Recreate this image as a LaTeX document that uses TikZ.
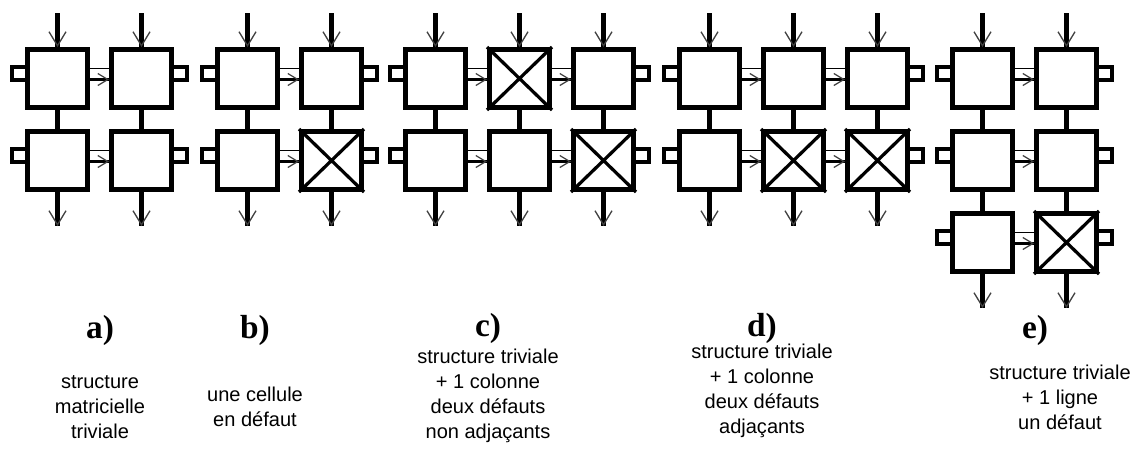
\documentclass[tikz,border=0pt]{standalone}
\usepackage{fontspec}
\setmainfont{Liberation Serif}
\newfontfamily\legende{Liberation Sans}
\usetikzlibrary{arrows.meta}

\tikzset{
  cellule/.style={draw, line width=0.1cm, minimum width=1.2cm, minimum height=1.16cm, inner sep=0pt},
  fil/.style={line width=0.09cm},
  pointe/.style={-{Straight Barb[length=0.28cm, width=0.34cm, line width=0.75pt, black!75]}},
  entree/.style={fil, postaction={draw, line width=0.5pt, pointe}},
  port/.style={line width=0.065cm},
  liaison/.style={line width=0.045cm, postaction={draw, line width=0.5pt, -{Straight Barb[length=0.2cm, width=0.24cm, line width=0.7pt, black!75]}}},
  diag/.style={line width=0.065cm},
  rang/.style={font=\fontsize{19}{21}\selectfont\bfseries},
  texte/.style={align=center, font=\legende\fontsize{11.4}{14.2}\selectfont}
}

% une matrice de cellules : nom, x de la 1ere colonne, colonnes, lignes
\newcommand\grille[4]{%
  \foreach \c in {1,...,#3}{
    \foreach \r in {1,...,#4}{
      \node[cellule] (#1-\r-\c) at ({#2+84*(\c-1)}, {78.5+82*(\r-1)}) {};
    }
    % entrees et sorties
    \draw[entree] ([yshift=0.68cm]#1-1-\c.north) -- (#1-1-\c.north);
    \draw[entree] (#1-#4-\c.south) -- ++(0,34);
    % liaisons verticales
    \foreach \s [evaluate=\s as \r using int(\s-1)] in {2,...,#4}
      \draw[fil] (#1-\r-\c.south) -- (#1-\s-\c.north);
  }
  \foreach \r in {1,...,#4}{
    % ports de bord
    \draw[port] ([yshift=0.23cm]#1-\r-1.west) -- ++(-13,0) -- ++(0,13) -- ++(13,0);
    \draw[port] ([yshift=0.23cm]#1-\r-#3.east) -- ++(13,0) -- ++(0,13) -- ++(-13,0);
    % liaisons horizontales
    \foreach \d [evaluate=\d as \c using int(\d-1)] in {2,...,#3}{
      \draw[line width=0.03cm] ([yshift=0.2cm]#1-\r-\c.east) -- ([yshift=0.2cm]#1-\r-\d.west);
      \draw[liaison] ([yshift=-0.02cm]#1-\r-\c.east) -- ([yshift=-0.02cm]#1-\r-\d.west);
    }
  }
}

% cellule en defaut
\newcommand\croix[1]{\draw[diag] (#1.north west) -- (#1.south east) (#1.north east) -- (#1.south west);}

\begin{document}
\begin{tikzpicture}[x=0.02cm, y=-0.02cm]
  \useasboundingbox (0,0) rectangle (1143,468);

  % a) structure triviale
  \grille{a}{57.5}{2}{2}

  % b) une cellule en defaut
  \grille{b}{247.5}{2}{2}
  \croix{b-2-2}

  % c) colonne en plus, defauts non adjacents
  \grille{c}{435.5}{3}{2}
  \croix{c-1-2}
  \croix{c-2-3}

  % d) colonne en plus, defauts adjacents
  \grille{d}{709.5}{3}{2}
  \croix{d-2-2}
  \croix{d-2-3}

  % e) ligne en plus
  \grille{e}{982.5}{2}{3}
  \croix{e-3-2}

  % legendes
  \node[rang] (ra) at (100,330) {a)};
  \node[rang] (rb) at (255,330) {b)};
  \node[rang] (rc) at (488,328) {c)};
  \node[rang] (rd) at (762,328) {d)};
  \node[rang] (re) at (1035,330) {e)};

  \node[texte] (ta) at (100,407) {structure\\matricielle\\triviale};
  \node[texte] (tb) at (255,407) {une cellule\\en défaut};
  \node[texte] (tc) at (488,396) {structure triviale\\+ 1 colonne\\deux défauts\\non adjaçants};
  \node[texte] (td) at (762,391) {structure triviale\\+ 1 colonne\\deux défauts\\adjaçants};
  \node[texte] (te) at (1060,397) {structure triviale\\+ 1 ligne\\un défaut};
\end{tikzpicture}
\end{document}
